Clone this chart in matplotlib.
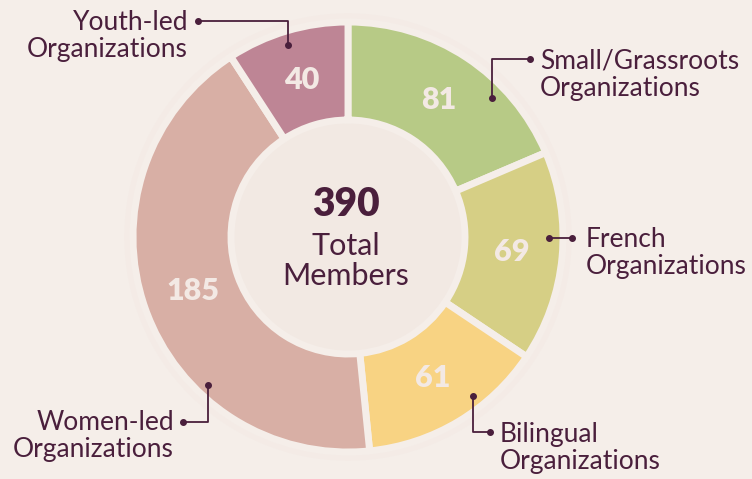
import numpy as np
import matplotlib.pyplot as plt
from matplotlib.patches import Circle

plt.rcParams['font.family'] = ['Lato', 'DejaVu Sans']

categories = ["Small/Grassroots\nOrganizations", "French\nOrganizations",
              "Bilingual\nOrganizations", "Women-led\nOrganizations",
              "Youth-led\nOrganizations"]
members = [81, 69, 61, 185, 40]
colors = ["#b7ca86", "#d6cf85", "#f8d383", "#d8afa5", "#be8595"]
total_label = "390"

BG = "#f5eee9"
INK = "#4a1f3c"
H = 479

fig = plt.figure(figsize=(7.52, 4.79), dpi=100, facecolor=BG)
ax = fig.add_axes([0, 0, 1, 1])
ax.set_xlim(0, 752)
ax.set_ylim(0, H)
ax.set_aspect('equal')
ax.axis('off')

cx, cy = 348, H - 237
r_out, r_in = 215, 117

# faint halo and centre disc
ax.add_patch(Circle((cx, cy), r_out + 8, color="#f4ebe6", zorder=0))
ax.add_patch(Circle((cx, cy), r_in, color="#f2e9e3", zorder=0))

wedges, _ = ax.pie(members, colors=colors, startangle=90, counterclock=False,
                   radius=r_out, center=(cx, cy),
                   wedgeprops=dict(width=r_out - r_in, edgecolor=BG, linewidth=5))
ax.set_xlim(0, 752)
ax.set_ylim(0, H)

r_mid = (r_out + r_in) / 2 - 2
for w, v in zip(wedges, members):
    ang = np.deg2rad((w.theta1 + w.theta2) / 2)
    ax.text(cx + r_mid * np.cos(ang), cy + r_mid * np.sin(ang), str(v),
            ha="center", va="center", fontsize=22, fontweight="heavy", color="#f3e9e4")

ax.text(cx - 2, H - 204, total_label, ha="center", va="center", fontsize=28,
        fontweight="heavy", color=INK)
ax.text(cx - 2, H - 261, "Total\nMembers", ha="center", va="center", fontsize=22,
        color=INK, linespacing=1.1)

# leader lines: (path in pixel coords, text anchor, ha)
leaders = [
    ([(492, 98), (492, 59), (530, 59)], (540, 75), "left"),
    ([(549, 238), (572, 238)], (586, 253), "left"),
    ([(473, 396), (473, 432), (490, 432)], (500, 448), "left"),
    ([(208, 385), (208, 422), (183, 422)], (174, 436), "right"),
    ([(288, 45), (288, 21), (198, 21)], (188, 36), "right"),
]
for (path, (tx, ty), ha), label in zip(leaders, categories):
    xs = [p[0] for p in path]
    ys = [H - p[1] for p in path]
    ax.plot(xs, ys, color=INK, lw=1.3, zorder=5)
    ax.plot([xs[0], xs[-1]], [ys[0], ys[-1]], "o", color=INK, ms=4, zorder=5)
    ax.text(tx, H - ty, label, ha=ha, va="center", fontsize=19, color=INK,
            linespacing=1.13)

fig.savefig("out.png", dpi=100, facecolor=BG)
